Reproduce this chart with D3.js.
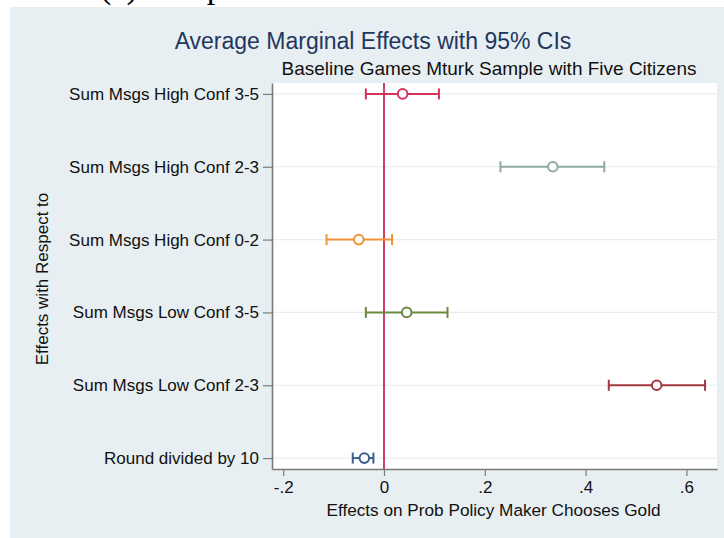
<!DOCTYPE html>
<html>
<head>
<meta charset="utf-8">
<script src="https://cdn.jsdelivr.net/npm/d3@7"></script>
<style>
  body { margin: 0; background: #fff; }
  text { font-family: "Liberation Sans", Arial, Helvetica, sans-serif; }
</style>
</head>
<body>
<div id="chart"></div>
<script>
// Coefficient labels, top to bottom
var categories = [
  "Sum Msgs High Conf 3-5",
  "Sum Msgs High Conf 2-3",
  "Sum Msgs High Conf 0-2",
  "Sum Msgs Low Conf 3-5",
  "Sum Msgs Low Conf 2-3",
  "Round divided by 10"
];
// Point estimates and 95% CI bounds
var estimates = [0.037, 0.335, -0.050, 0.045, 0.541, -0.039];
var lowerCI   = [-0.036, 0.231, -0.114, -0.036, 0.446, -0.062];
var upperCI   = [0.109, 0.437, 0.016, 0.126, 0.637, -0.021];
var xTicks = [-0.2, 0, 0.2, 0.4, 0.6];

var colors = ["#d4335c", "#8eab9e", "#ef9236", "#6a8a40", "#a2373f", "#3b5f8f"];

var W = 724, H = 538;
var plot = {left: 272, right: 717, top: 83, bottom: 469};

var svg = d3.select("#chart").append("svg")
  .attr("width", W).attr("height", H);

// fragment of the caption above, cut off by the frame
svg.append("text")
  .attr("x", 100).attr("y", -2)
  .style("font-family", "'Liberation Serif', 'Times New Roman', serif")
  .style("font-size", "34px")
  .attr("fill", "#000")
  .text("(c) Sample");

// graph background
svg.append("rect")
  .attr("x", 10).attr("y", 7)
  .attr("width", W - 10).attr("height", H - 7)
  .attr("fill", "#e8eff2");

// plot region
svg.append("rect")
  .attr("x", plot.left).attr("y", plot.top)
  .attr("width", plot.right - plot.left).attr("height", plot.bottom - plot.top)
  .attr("fill", "#fff");

var rows = categories.map(function(c, i) {
  return {name: c, est: estimates[i], lo: lowerCI[i], hi: upperCI[i], color: colors[i]};
});

var x = d3.scaleLinear()
  .domain([-0.2222, 0.6607])
  .range([plot.left, plot.right]);

var y = d3.scalePoint()
  .domain(categories)
  .range([plot.top, plot.bottom])
  .padding(0.15);

// horizontal grid lines
svg.append("g").selectAll("line")
  .data(categories)
  .enter().append("line")
  .attr("x1", plot.left).attr("x2", plot.right)
  .attr("y1", d => y(d)).attr("y2", d => y(d))
  .attr("stroke", "#e6eef0")
  .attr("stroke-width", 1.2);

// x axis, Stata style labels (-.2, 0, .2 ...)
var fmt = function(d) {
  if (d === 0) return "0";
  return d3.format(".1f")(d).replace("0.", ".").replace("\u2212", "-");
};
var xAxis = svg.append("g")
  .attr("transform", "translate(0," + plot.bottom + ")")
  .call(d3.axisBottom(x).tickValues(xTicks).tickFormat(fmt).tickSize(7).tickPadding(5).tickSizeOuter(0));
xAxis.select(".domain").attr("stroke", "#7a7a7a").attr("stroke-width", 1.6);
xAxis.selectAll(".tick line").attr("stroke", "#7a7a7a").attr("stroke-width", 1.2);
xAxis.selectAll(".tick text").attr("fill", "#111")
  .style("font-size", "17px").style("font-family", "'Liberation Sans', Arial, sans-serif");

// y axis
var yAxis = svg.append("g")
  .attr("transform", "translate(" + plot.left + ",0)")
  .call(d3.axisLeft(y).tickSize(9).tickPadding(4).tickSizeOuter(0));
yAxis.select(".domain").attr("stroke", "#7a7a7a").attr("stroke-width", 1.6);
yAxis.selectAll(".tick line").attr("stroke", "#7a7a7a").attr("stroke-width", 1.2);
yAxis.selectAll(".tick text").attr("fill", "#111")
  .style("font-size", "17px").style("font-family", "'Liberation Sans', Arial, sans-serif");

// reference line at zero
svg.append("line")
  .attr("x1", x(0)).attr("x2", x(0))
  .attr("y1", plot.top).attr("y2", plot.bottom)
  .attr("stroke", "#d23f65")
  .attr("stroke-width", 2);

// confidence intervals and markers
var g = svg.append("g").selectAll("g")
  .data(rows)
  .enter().append("g")
  .attr("stroke", d => d.color);

g.append("line")
  .attr("x1", d => x(d.lo)).attr("x2", d => x(d.hi))
  .attr("y1", d => y(d.name)).attr("y2", d => y(d.name))
  .attr("stroke-width", 2);
g.append("line")
  .attr("x1", d => x(d.lo)).attr("x2", d => x(d.lo))
  .attr("y1", d => y(d.name) - 5.5).attr("y2", d => y(d.name) + 5.5)
  .attr("stroke-width", 2);
g.append("line")
  .attr("x1", d => x(d.hi)).attr("x2", d => x(d.hi))
  .attr("y1", d => y(d.name) - 5.5).attr("y2", d => y(d.name) + 5.5)
  .attr("stroke-width", 2);
g.append("circle")
  .attr("cx", d => x(d.est)).attr("cy", d => y(d.name))
  .attr("r", 4.8)
  .attr("fill", "#fff")
  .attr("stroke-width", 2);

// titles
svg.append("text")
  .attr("x", 373).attr("y", 49)
  .attr("text-anchor", "middle")
  .attr("fill", "#22375f")
  .style("font-size", "23px")
  .text("Average Marginal Effects with 95% CIs");

svg.append("text")
  .attr("x", 489).attr("y", 75)
  .attr("text-anchor", "middle")
  .attr("fill", "#111")
  .style("font-size", "19px")
  .text("Baseline Games Mturk Sample with Five Citizens");

svg.append("text")
  .attr("x", (plot.left + plot.right) / 2 - 1).attr("y", 516)
  .attr("text-anchor", "middle")
  .attr("fill", "#111")
  .style("font-size", "17.2px")
  .text("Effects on Prob Policy Maker Chooses Gold");

svg.append("text")
  .attr("transform", "translate(48," + ((plot.top + plot.bottom) / 2 + 3) + ") rotate(-90)")
  .attr("text-anchor", "middle")
  .attr("fill", "#111")
  .style("font-size", "17px")
  .text("Effects with Respect to");
</script>
</body>
</html>
